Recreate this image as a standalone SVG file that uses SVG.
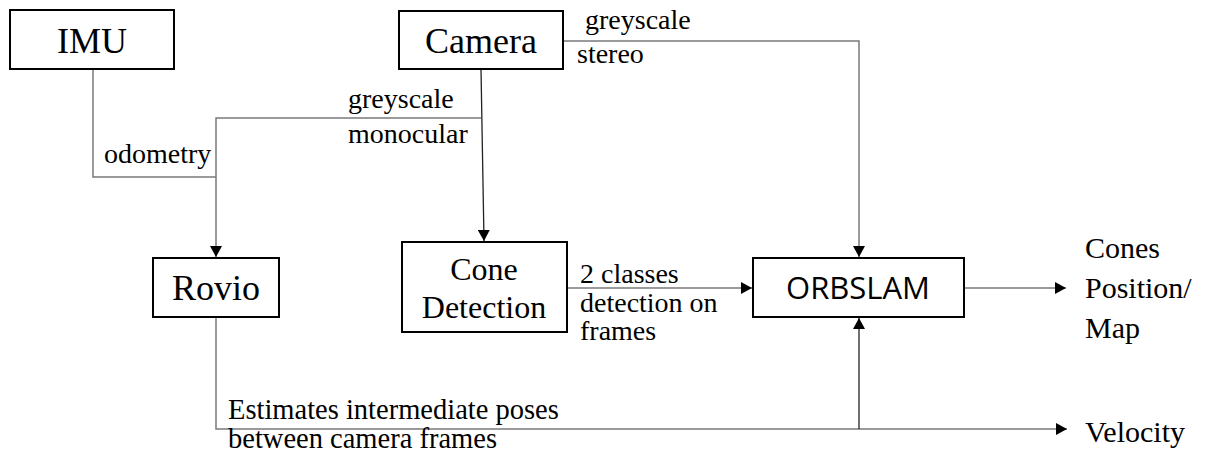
<svg xmlns="http://www.w3.org/2000/svg" width="1210" height="455" viewBox="0 0 1210 455">
<style>
.box{fill:#fff;stroke:#000;stroke-width:2}
.t{font-family:"Liberation Serif","Times New Roman",serif;fill:#000}
.big{font-size:36px;text-anchor:middle}
.mid{font-size:32px;text-anchor:middle}
.lbl{font-size:28px}
.out{font-size:30px}
.ln{fill:none;stroke:#7a7a7a;stroke-width:1.5}
.lk{fill:none;stroke:#222;stroke-width:1.3}
</style>
<defs>
<marker id="ah" markerWidth="12" markerHeight="12" refX="11" refY="6" orient="auto" markerUnits="userSpaceOnUse">
<path d="M0,0 L11,6 L0,12 Z" fill="#000"/>
</marker>
</defs>
<rect width="1210" height="455" fill="#fff"/>
<g id="connectors">
<polyline class="ln" points="93,69 93,177 216,177"/>
<polyline class="ln" points="481,118 216,118 216,257" marker-end="url(#ah)"/>
<line class="lk" x1="481" y1="69" x2="484" y2="241" marker-end="url(#ah)"/>
<polyline class="ln" points="563,41 859,41 859,257" marker-end="url(#ah)"/>
<line class="ln" x1="567" y1="288" x2="752" y2="288" marker-end="url(#ah)"/>
<line class="ln" x1="964" y1="288" x2="1066" y2="288" marker-end="url(#ah)"/>
<polyline class="ln" points="216,317 216,429 1067,429" marker-end="url(#ah)"/>
<line class="lk" x1="859" y1="429" x2="859" y2="318" marker-end="url(#ah)"/>
</g>
<g id="imu">
<rect class="box" x="10" y="10" width="164" height="59"/>
<text class="t big" x="92" y="53">IMU</text>
</g>
<g id="camera">
<rect class="box" x="399" y="11" width="164" height="58"/>
<text class="t big" x="481" y="53">Camera</text>
</g>
<g id="rovio">
<rect class="box" x="153" y="258" width="126" height="59"/>
<text class="t big" x="216" y="300">Rovio</text>
</g>
<g id="cone-detection">
<rect class="box" x="402" y="242" width="165" height="90"/>
<text class="t mid" x="484" y="280">Cone</text>
<text class="t mid" x="484" y="318">Detection</text>
</g>
<g id="orbslam">
<rect class="box" x="753" y="258" width="211" height="59"/>
<text x="858" y="299" text-anchor="middle" font-family="'Open Sans','Liberation Sans',sans-serif" font-size="31" fill="#000">ORBSLAM</text>
</g>
<g id="labels">
<text class="t lbl" x="585" y="29">greyscale</text>
<text class="t lbl" x="577" y="63">stereo</text>
<text class="t lbl" x="348" y="108">greyscale</text>
<text class="t lbl" x="348" y="143">monocular</text>
<text class="t lbl" x="104" y="163">odometry</text>
<text class="t lbl" x="580" y="283">2 classes</text>
<text class="t lbl" x="580" y="312">detection on</text>
<text class="t lbl" x="580" y="340">frames</text>
<text class="t" x="228" y="419" font-size="28.5">Estimates intermediate poses</text>
<text class="t" x="228" y="448" font-size="28.5">between camera frames</text>
<text class="t out" x="1085" y="258">Cones</text>
<text class="t out" x="1085" y="298">Position/</text>
<text class="t out" x="1085" y="338">Map</text>
<text class="t out" x="1085" y="442">Velocity</text>
</g>
</svg>
